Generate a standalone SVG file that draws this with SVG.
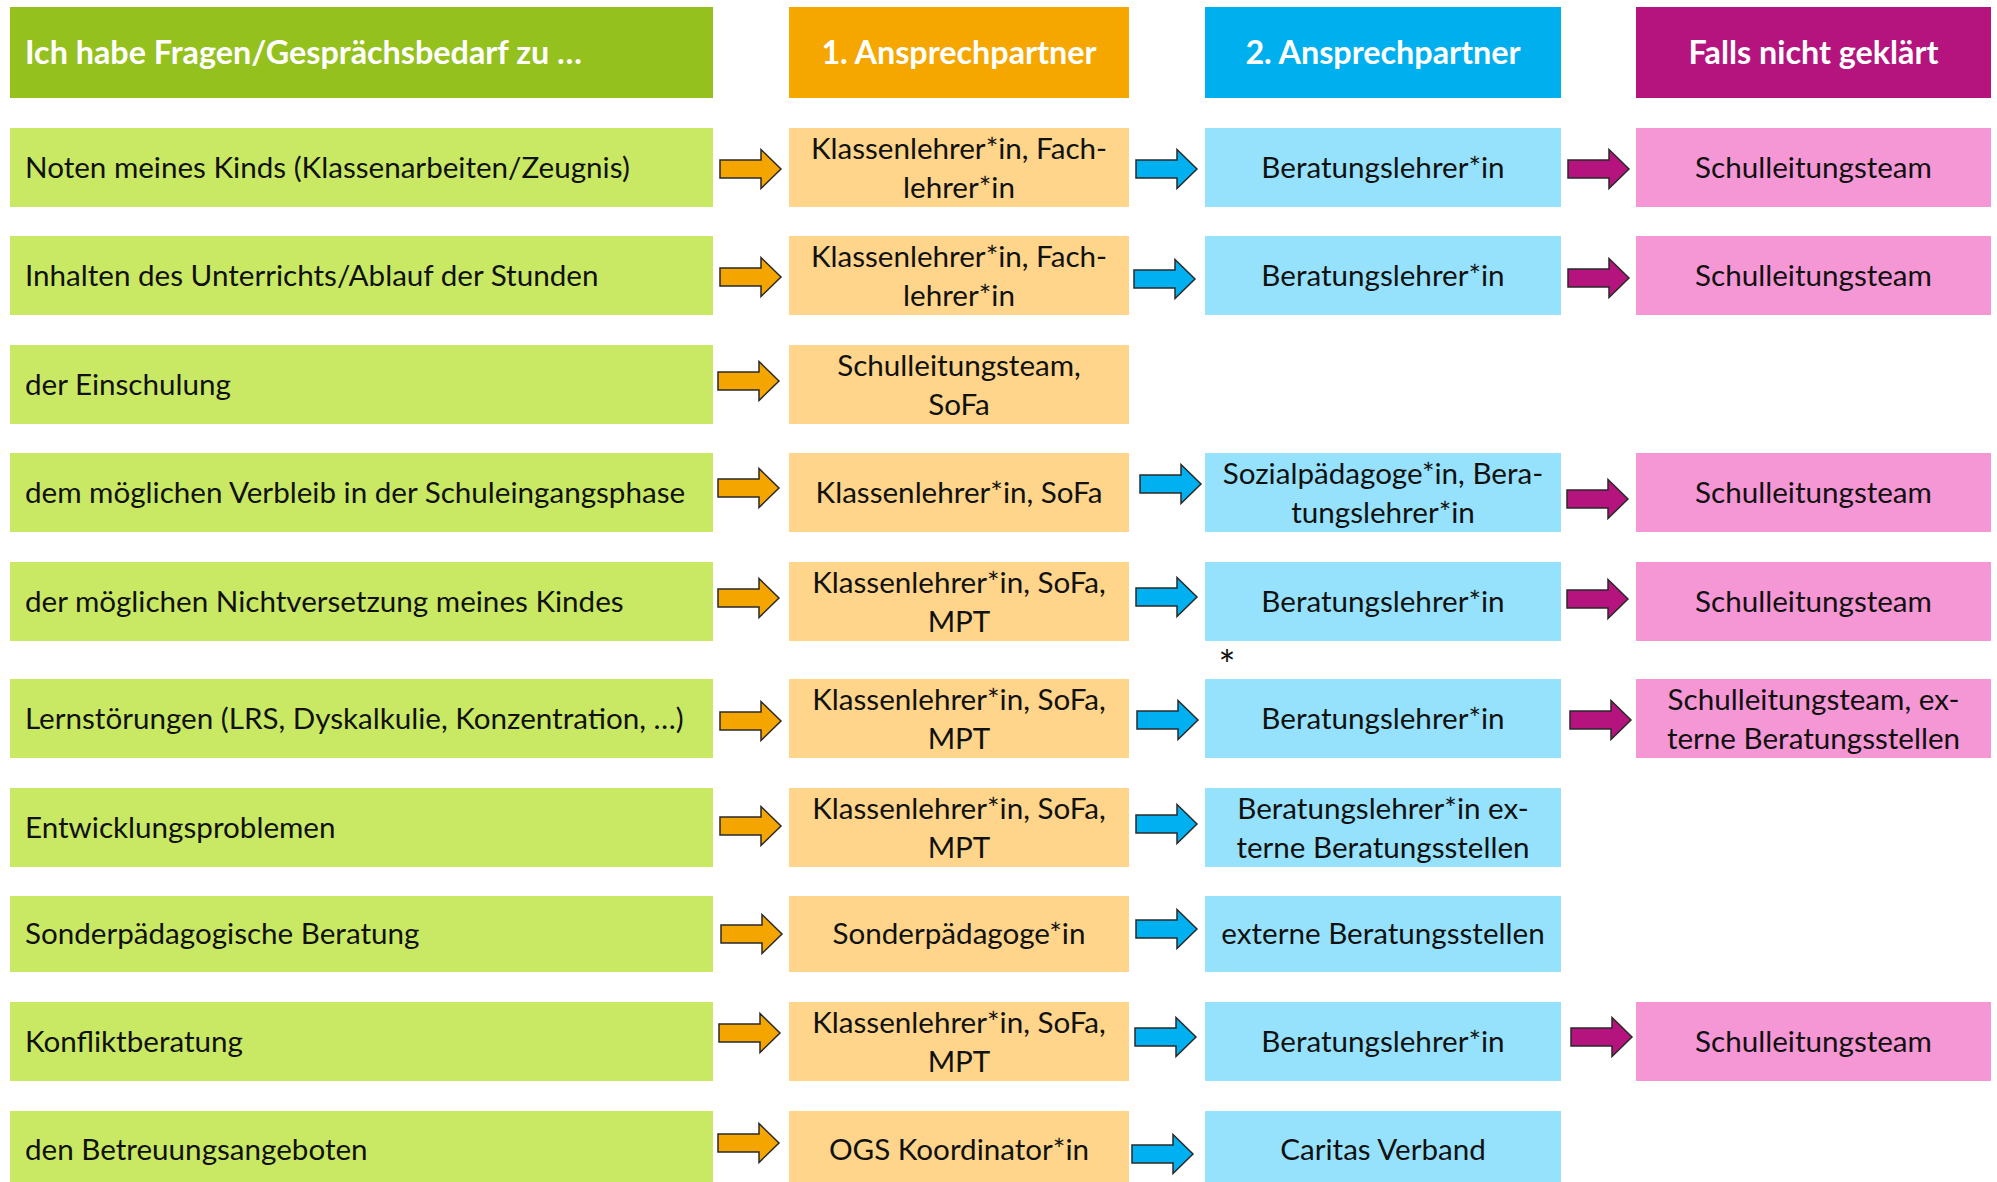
<svg xmlns="http://www.w3.org/2000/svg" xmlns:xlink="http://www.w3.org/1999/xlink" width="1997" height="1182" viewBox="0 0 1997 1182">
<style>
text{font-family:Lato,"Liberation Sans",sans-serif;font-size:29.6px;fill:#111}
.h{font-weight:bold;fill:#fff;font-size:32.3px}
.c{text-anchor:middle}
.star{font-size:40px}
.hg{fill:#95C11F}.ho{fill:#F5A700}.hb{fill:#00B0EE}.hm{fill:#B5137D}
.g{fill:#C9E964}.o{fill:#FED58A}.b{fill:#96E2FC}.m{fill:#F597D5}
.ao{fill:#F5A500}.ab{fill:#00B0F0}.am{fill:#B5137D}
</style>
<defs>
<path id="arr" d="M-61,-9H-20V-19.5L0,0L-20,19.5V9H-61Z" stroke="#2a2a2a" stroke-width="1.5" stroke-linejoin="miter"/>
</defs>
<rect width="1997" height="1182" fill="#fff"/>
<g id="headers">
<g id="h1"><rect class="hg" x="10" y="7" width="703" height="91"/><text class="h" x="25" y="64">Ich habe Fragen/Gesprächsbedarf zu …</text></g>
<g id="h2"><rect class="ho" x="789" y="7" width="340" height="91"/><text class="h c" x="959" y="64">1. Ansprechpartner</text></g>
<g id="h3"><rect class="hb" x="1205" y="7" width="356" height="91"/><text class="h c" x="1383" y="64">2. Ansprechpartner</text></g>
<g id="h4"><rect class="hm" x="1636" y="7" width="355" height="91"/><text class="h c" x="1813.5" y="64">Falls nicht geklärt</text></g>
</g>
<g id="row1">
<g id="r1a"><rect class="g" x="10" y="128" width="703" height="79"/><text x="25" y="178">Noten meines Kinds (Klassenarbeiten/Zeugnis)</text></g>
<g id="r1b"><rect class="o" x="789" y="128" width="340" height="79"/><text class="c" x="959" y="159">Klassenlehrer*in, Fach-</text><text class="c" x="959" y="198">lehrer*in</text></g>
<g id="r1c"><rect class="b" x="1205" y="128" width="356" height="79"/><text class="c" x="1383" y="178">Beratungslehrer*in</text></g>
<g id="r1d"><rect class="m" x="1636" y="128" width="355" height="79"/><text class="c" x="1813.5" y="178">Schulleitungsteam</text></g>
</g>
<g id="row2">
<g id="r2a"><rect class="g" x="10" y="236" width="703" height="79"/><text x="25" y="286">Inhalten des Unterrichts/Ablauf der Stunden</text></g>
<g id="r2b"><rect class="o" x="789" y="236" width="340" height="79"/><text class="c" x="959" y="267">Klassenlehrer*in, Fach-</text><text class="c" x="959" y="306">lehrer*in</text></g>
<g id="r2c"><rect class="b" x="1205" y="236" width="356" height="79"/><text class="c" x="1383" y="286">Beratungslehrer*in</text></g>
<g id="r2d"><rect class="m" x="1636" y="236" width="355" height="79"/><text class="c" x="1813.5" y="286">Schulleitungsteam</text></g>
</g>
<g id="row3">
<g id="r3a"><rect class="g" x="10" y="345" width="703" height="79"/><text x="25" y="395">der Einschulung</text></g>
<g id="r3b"><rect class="o" x="789" y="345" width="340" height="79"/><text class="c" x="959" y="376">Schulleitungsteam,</text><text class="c" x="959" y="415">SoFa</text></g>
</g>
<g id="row4">
<g id="r4a"><rect class="g" x="10" y="453" width="703" height="79"/><text x="25" y="503">dem möglichen Verbleib in der Schuleingangsphase</text></g>
<g id="r4b"><rect class="o" x="789" y="453" width="340" height="79"/><text class="c" x="959" y="503">Klassenlehrer*in, SoFa</text></g>
<g id="r4c"><rect class="b" x="1205" y="453" width="356" height="79"/><text class="c" x="1383" y="484">Sozialpädagoge*in, Bera-</text><text class="c" x="1383" y="523">tungslehrer*in</text></g>
<g id="r4d"><rect class="m" x="1636" y="453" width="355" height="79"/><text class="c" x="1813.5" y="503">Schulleitungsteam</text></g>
</g>
<g id="row5">
<g id="r5a"><rect class="g" x="10" y="562" width="703" height="79"/><text x="25" y="612">der möglichen Nichtversetzung meines Kindes</text></g>
<g id="r5b"><rect class="o" x="789" y="562" width="340" height="79"/><text class="c" x="959" y="593">Klassenlehrer*in, SoFa,</text><text class="c" x="959" y="632">MPT</text></g>
<g id="r5c"><rect class="b" x="1205" y="562" width="356" height="79"/><text class="c" x="1383" y="612">Beratungslehrer*in</text></g>
<g id="r5d"><rect class="m" x="1636" y="562" width="355" height="79"/><text class="c" x="1813.5" y="612">Schulleitungsteam</text></g>
</g>
<g id="note"><text class="c star" x="1227" y="680">*</text></g>
<g id="row6">
<g id="r6a"><rect class="g" x="10" y="679" width="703" height="79"/><text x="25" y="729">Lernstörungen (LRS, Dyskalkulie, Konzentration, …)</text></g>
<g id="r6b"><rect class="o" x="789" y="679" width="340" height="79"/><text class="c" x="959" y="710">Klassenlehrer*in, SoFa,</text><text class="c" x="959" y="749">MPT</text></g>
<g id="r6c"><rect class="b" x="1205" y="679" width="356" height="79"/><text class="c" x="1383" y="729">Beratungslehrer*in</text></g>
<g id="r6d"><rect class="m" x="1636" y="679" width="355" height="79"/><text class="c" x="1813.5" y="710">Schulleitungsteam, ex-</text><text class="c" x="1813.5" y="749">terne Beratungsstellen</text></g>
</g>
<g id="row7">
<g id="r7a"><rect class="g" x="10" y="788" width="703" height="79"/><text x="25" y="838">Entwicklungsproblemen</text></g>
<g id="r7b"><rect class="o" x="789" y="788" width="340" height="79"/><text class="c" x="959" y="819">Klassenlehrer*in, SoFa,</text><text class="c" x="959" y="858">MPT</text></g>
<g id="r7c"><rect class="b" x="1205" y="788" width="356" height="79"/><text class="c" x="1383" y="819">Beratungslehrer*in ex-</text><text class="c" x="1383" y="858">terne Beratungsstellen</text></g>
</g>
<g id="row8">
<g id="r8a"><rect class="g" x="10" y="896" width="703" height="76"/><text x="25" y="944">Sonderpädagogische Beratung</text></g>
<g id="r8b"><rect class="o" x="789" y="896" width="340" height="76"/><text class="c" x="959" y="944">Sonderpädagoge*in</text></g>
<g id="r8c"><rect class="b" x="1205" y="896" width="356" height="76"/><text class="c" x="1383" y="944">externe Beratungsstellen</text></g>
</g>
<g id="row9">
<g id="r9a"><rect class="g" x="10" y="1002" width="703" height="79"/><text x="25" y="1052">Konfliktberatung</text></g>
<g id="r9b"><rect class="o" x="789" y="1002" width="340" height="79"/><text class="c" x="959" y="1033">Klassenlehrer*in, SoFa,</text><text class="c" x="959" y="1072">MPT</text></g>
<g id="r9c"><rect class="b" x="1205" y="1002" width="356" height="79"/><text class="c" x="1383" y="1052">Beratungslehrer*in</text></g>
<g id="r9d"><rect class="m" x="1636" y="1002" width="355" height="79"/><text class="c" x="1813.5" y="1052">Schulleitungsteam</text></g>
</g>
<g id="row10">
<g id="r10a"><rect class="g" x="10" y="1111" width="703" height="71"/><text x="25" y="1160">den Betreuungsangeboten</text></g>
<g id="r10b"><rect class="o" x="789" y="1111" width="340" height="71"/><text class="c" x="959" y="1160">OGS Koordinator*in</text></g>
<g id="r10c"><rect class="b" x="1205" y="1111" width="356" height="71"/><text class="c" x="1383" y="1160">Caritas Verband</text></g>
</g>
<g id="connectors">
<use href="#arr" class="ao" x="781" y="169"/>
<use href="#arr" class="ao" x="781" y="277"/>
<use href="#arr" class="ao" x="779" y="381"/>
<use href="#arr" class="ao" x="779" y="488"/>
<use href="#arr" class="ao" x="779" y="598"/>
<use href="#arr" class="ao" x="781" y="721"/>
<use href="#arr" class="ao" x="781" y="826"/>
<use href="#arr" class="ao" x="782" y="934"/>
<use href="#arr" class="ao" x="780" y="1033"/>
<use href="#arr" class="ao" x="779" y="1143"/>
<use href="#arr" class="ab" x="1197" y="169"/>
<use href="#arr" class="ab" x="1195" y="279"/>
<use href="#arr" class="ab" x="1201" y="484"/>
<use href="#arr" class="ab" x="1197" y="597"/>
<use href="#arr" class="ab" x="1198" y="720"/>
<use href="#arr" class="ab" x="1197" y="824"/>
<use href="#arr" class="ab" x="1197" y="929"/>
<use href="#arr" class="ab" x="1196" y="1037"/>
<use href="#arr" class="ab" x="1193" y="1154"/>
<use href="#arr" class="am" x="1629" y="169"/>
<use href="#arr" class="am" x="1629" y="278"/>
<use href="#arr" class="am" x="1628" y="499"/>
<use href="#arr" class="am" x="1628" y="599"/>
<use href="#arr" class="am" x="1631" y="720"/>
<use href="#arr" class="am" x="1632" y="1037"/>
</g>
</svg>
